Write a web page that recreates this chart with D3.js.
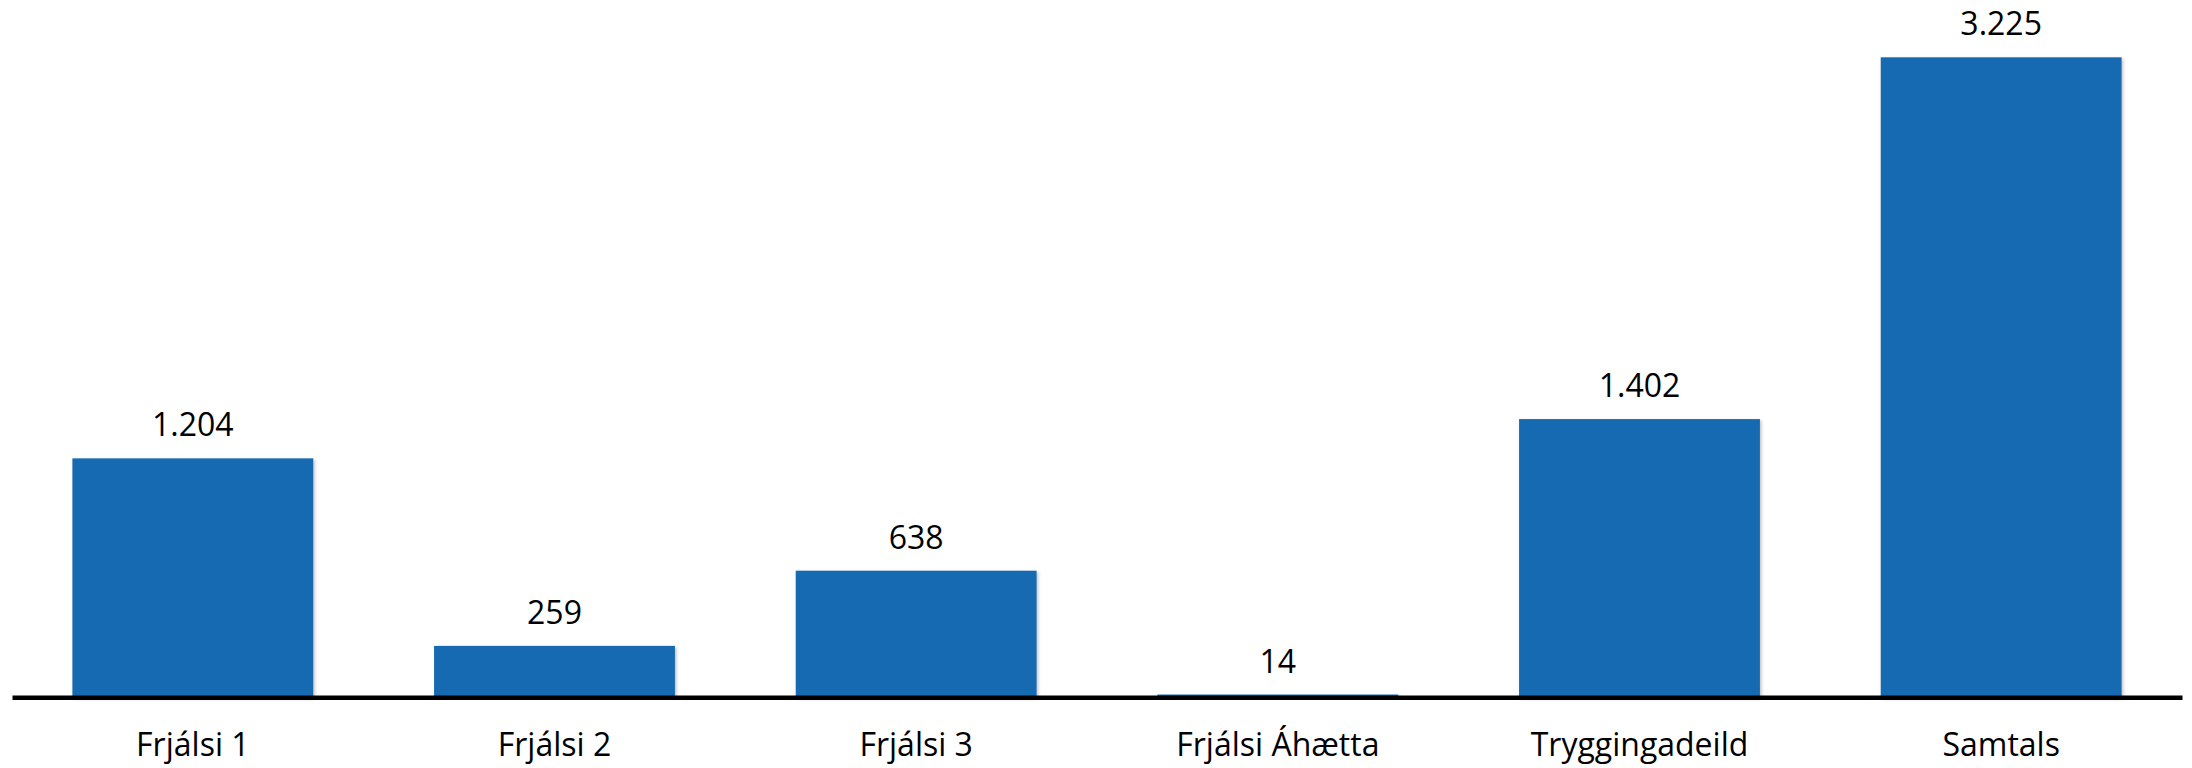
<!DOCTYPE html>
<html>
<head>
<meta charset="utf-8">
<script src="https://cdn.jsdelivr.net/npm/d3@7/dist/d3.min.js"></script>
<style>
  html, body { margin: 0; padding: 0; background: #ffffff; }
  svg { display: block; }
</style>
</head>
<body>
<svg id="chart" width="2192" height="768"></svg>
<script>
const categories = ["Frjálsi 1", "Frjálsi 2", "Frjálsi 3", "Frjálsi Áhætta", "Tryggingadeild", "Samtals"];
const values = [1204, 259, 638, 14, 1402, 3225];
const valueLabels = ["1.204", "259", "638", "14", "1.402", "3.225"];

const svg = d3.select("#chart");
const W = 2192, H = 768;
const baseY = 697.3;
const font = "'Open Sans', 'Noto Sans', sans-serif";

const x = d3.scaleBand()
  .domain(categories)
  .range([12, 2182])
  .paddingInner(0.334)
  .paddingOuter(0.167);

const y = d3.scaleLinear()
  .domain([0, 3225])
  .range([baseY, 57.3]);

const defs = svg.append("defs");
const f = defs.append("filter").attr("id", "shadow")
  .attr("x", "-5%").attr("y", "-5%").attr("width", "110%").attr("height", "110%");
f.append("feDropShadow").attr("dx", 1.5).attr("dy", 1.5).attr("stdDeviation", 1.5)
  .attr("flood-color", "#000").attr("flood-opacity", 0.25);

const data = categories.map((c, i) => ({ c, v: values[i], label: valueLabels[i] }));

svg.append("g").selectAll("rect")
  .data(data)
  .join("rect")
  .attr("x", d => x(d.c))
  .attr("y", d => y(d.v))
  .attr("width", x.bandwidth())
  .attr("height", d => baseY - y(d.v))
  .attr("fill", "#176bb1")
  .attr("filter", "url(#shadow)");

svg.append("g").selectAll("text")
  .data(data)
  .join("text")
  .attr("x", d => x(d.c) + x.bandwidth() / 2)
  .attr("y", d => y(d.v) - 22)
  .attr("text-anchor", "middle")
  .attr("font-family", font)
  .attr("font-size", 32)
  .attr("fill", "#000")
  .text(d => d.label);

const axis = svg.append("g")
  .attr("transform", `translate(0,${baseY})`)
  .call(d3.axisBottom(x).tickSize(0).tickSizeOuter(0));
axis.select(".domain").attr("stroke", "#000").attr("stroke-width", 4.5);
axis.selectAll(".tick text")
  .attr("y", 59)
  .attr("dy", 0)
  .attr("font-family", font)
  .attr("font-size", 32)
  .attr("fill", "#000");
</script>
</body>
</html>
